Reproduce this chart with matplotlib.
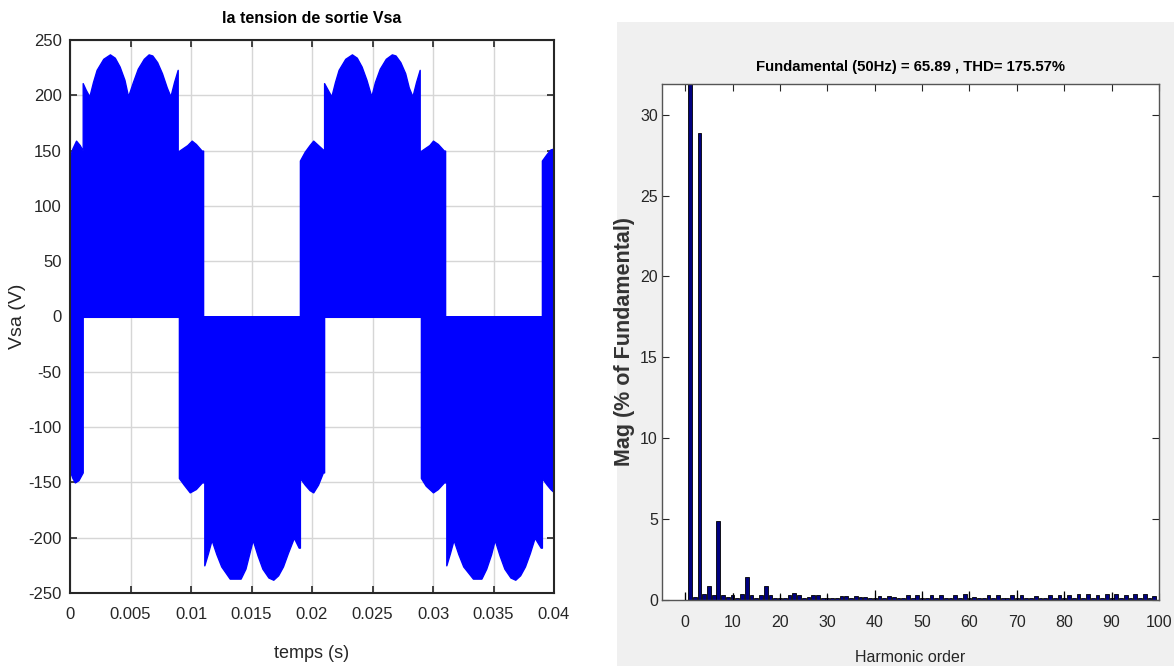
import matplotlib
matplotlib.use("Agg")
import matplotlib.pyplot as plt
from matplotlib import font_manager
from matplotlib.patches import Rectangle
import numpy as np

# ---------------- data: left panel (envelope of the PWM voltage) ----
# upper (positive) envelope: time (s) and value (V)
t_up = [0.0, 0.0002, 0.0005, 0.0008, 0.00105, 0.00105, 0.0013, 0.0016, 0.0019, 0.0022,
        0.00275, 0.0033, 0.0037, 0.0041, 0.0045, 0.0048, 0.0052, 0.0056, 0.0061, 0.0065,
        0.0068, 0.0072, 0.0076, 0.0080, 0.0083, 0.0086, 0.0089, 0.0089, 0.0093, 0.0097,
        0.01006, 0.0104, 0.01088, 0.0110, 0.0110, 0.0190, 0.0190, 0.0194, 0.0198, 0.0201,
        0.0205, 0.0209, 0.0210, 0.0210, 0.0213, 0.0216, 0.0219, 0.0222, 0.02275, 0.0233,
        0.0237, 0.0241, 0.0245, 0.0249, 0.0252, 0.0256, 0.0261, 0.0266, 0.0269, 0.0273,
        0.0277, 0.0280, 0.0283, 0.0286, 0.0289, 0.0289, 0.0293, 0.0297, 0.0300, 0.0304,
        0.0309, 0.0310, 0.0310, 0.0390, 0.0390, 0.0394, 0.0397, 0.0400]
v_up = [145, 152, 159, 155, 150, 211, 205, 199, 212, 223,
        233, 237, 234, 226, 214, 199, 212, 224, 233, 237,
        236, 230, 220, 207, 199, 212, 223, 149, 152, 155,
        159, 156, 150, 150, 0, 0, 141, 149, 155, 159,
        155, 151, 151, 211, 205, 199, 212, 223, 233, 237,
        234, 226, 214, 199, 212, 224, 233, 237, 236, 230,
        220, 207, 199, 212, 223, 149, 152, 155, 159, 156,
        150, 150, 0, 0, 141, 147, 151, 152]

# lower (negative) envelope
t_lo = [0.0, 0.0002, 0.0004, 0.0007, 0.00105, 0.00105, 0.0090, 0.0090, 0.0094, 0.0099,
        0.0104, 0.0109, 0.0111, 0.0111, 0.0114, 0.0117, 0.0121, 0.0125, 0.0132, 0.0141,
        0.0145, 0.0148, 0.0151, 0.0155, 0.0159, 0.0164, 0.0168, 0.0172, 0.0176, 0.0180,
        0.0185, 0.0189, 0.0190, 0.0190, 0.0194, 0.0198, 0.0201, 0.0205, 0.0209, 0.0210,
        0.0210, 0.0290, 0.0290, 0.0294, 0.0300, 0.0304, 0.0309, 0.0311, 0.0311, 0.0314,
        0.0317, 0.0321, 0.0325, 0.0333, 0.0340, 0.0344, 0.0348, 0.0351, 0.0355, 0.0359,
        0.0364, 0.0368, 0.0372, 0.0376, 0.0380, 0.0384, 0.0389, 0.0390, 0.0390, 0.0394,
        0.0397, 0.0400]
v_lo = [-140, -146, -150, -148, -141, 0, 0, -146, -152, -159,
        -156, -150, -150, -225, -214, -202, -215, -226, -237, -237,
        -228, -215, -202, -216, -228, -236, -238, -234, -226, -214,
        -200, -209, -209, -146, -152, -157, -159, -152, -141, -141,
        0, 0, -146, -153, -159, -156, -150, -150, -225, -214,
        -202, -215, -226, -237, -237, -228, -215, -202, -216, -228,
        -236, -238, -234, -226, -214, -200, -209, -209, -146, -152,
        -156, -159]

# ---------------- data: right panel (harmonic spectrum, % of fundamental) ----
harm_order = list(range(0, 101))
harm_mag = [0.0, 100.0, 0.2, 28.9, 0.4, 0.85, 0.3, 4.9, 0.3, 0.2,
            0.3, 0.1, 0.4, 1.45, 0.3, 0.15, 0.3, 0.85, 0.3, 0.12,
            0.15, 0.12, 0.3, 0.45, 0.3, 0.15, 0.2, 0.3, 0.3, 0.15,
            0.1, 0.15, 0.1, 0.25, 0.25, 0.1, 0.25, 0.2, 0.2, 0.15,
            0.1, 0.25, 0.15, 0.25, 0.2, 0.15, 0.1, 0.3, 0.1, 0.3,
            0.1, 0.1, 0.3, 0.15, 0.3, 0.1, 0.15, 0.3, 0.15, 0.35,
            0.1, 0.2, 0.1, 0.1, 0.3, 0.1, 0.3, 0.15, 0.15, 0.3,
            0.15, 0.3, 0.1, 0.1, 0.25, 0.1, 0.1, 0.3, 0.15, 0.3,
            0.1, 0.3, 0.15, 0.4, 0.1, 0.35, 0.1, 0.3, 0.1, 0.4,
            0.15, 0.4, 0.15, 0.3, 0.1, 0.4, 0.1, 0.35, 0.1, 0.25,
            0.0]
spike_order = [0, 10, 20, 30, 40, 50, 60, 70, 80, 90]
spike_mag = [0.5, 0.45, 0.4, 0.35, 0.6, 0.55, 0.55, 0.6, 0.55, 0.5]

left_xticks = [0, 0.005, 0.01, 0.015, 0.02, 0.025, 0.03, 0.035, 0.04]
left_xticklabels = ["0", "0.005", "0.01", "0.015", "0.02", "0.025", "0.03", "0.035", "0.04"]
left_yticks = [-250, -200, -150, -100, -50, 0, 50, 100, 150, 200, 250]
right_xticks = list(range(0, 101, 10))
right_yticks = [0, 5, 10, 15, 20, 25, 30]

title_left = "la tension de sortie Vsa"
title_right = "Fundamental (50Hz) = 65.89 , THD= 175.57%"

# ---------------- fonts ----
names = {f.name for f in font_manager.fontManager.ttflist}
base = "Liberation Sans" if "Liberation Sans" in names else "DejaVu Sans"
narrow = "Liberation Sans Narrow" if "Liberation Sans Narrow" in names else base
plt.rcParams["font.family"] = [base, "DejaVu Sans"]
plt.rcParams["axes.unicode_minus"] = False

W, H = 1174, 666
fig = plt.figure(figsize=(W / 100, H / 100), dpi=100)
fig.patch.set_facecolor("white")

# gray background of the right panel
fig.add_artist(Rectangle((617 / W, 0), 1 - 617 / W, 1 - 22 / H, transform=fig.transFigure,
                         facecolor="#f0f0f0", edgecolor="none", zorder=0))

# ---------------- left panel ----
axL = fig.add_axes([70 / W, (H - 593) / H, 484 / W, 553 / H])
axL.fill_between(t_up, 0, v_up, color="#0000ff", linewidth=1.0, edgecolor="#0000ff", zorder=2)
axL.fill_between(t_lo, v_lo, 0, color="#0000ff", linewidth=1.0, edgecolor="#0000ff", zorder=2)
axL.set_xlim(0, 0.04)
axL.set_ylim(-250, 250)
axL.set_xticks(left_xticks)
axL.set_xticklabels(left_xticklabels)
axL.set_yticks(left_yticks)
axL.grid(True, color="#d6d6d6", linewidth=1.0, zorder=0)
axL.set_axisbelow(True)
axL.tick_params(direction="in", top=True, right=True, length=5, width=1.2,
                labelsize=12, colors="#262626")
axL.tick_params(axis="x", pad=10)
axL.tick_params(axis="y", pad=6)
for s in axL.spines.values():
    s.set_linewidth(1.5)
    s.set_color("#262626")
axL.set_title(title_left, fontsize=11.5, fontweight="bold", color="black", pad=12)
axL.set_xlabel("temps (s)", fontsize=13, color="#262626", labelpad=17)
axL.set_ylabel("Vsa (V)", fontsize=14, color="#262626", labelpad=2)

# ---------------- right panel ----
axR = fig.add_axes([662 / W, (H - 600) / H, 497 / W, 516 / H])
axR.set_facecolor("white")
axR.bar(harm_order, harm_mag, width=0.8, color="#00007f", edgecolor="black", linewidth=0.6, zorder=2)
axR.vlines(spike_order, 0, spike_mag, color="black", linewidth=0.9, zorder=3)
axR.set_xlim(-4.9, 100)
axR.set_ylim(0, 31.9)
axR.set_xticks(right_xticks)
axR.set_yticks(right_yticks)
axR.tick_params(direction="in", top=True, right=True, length=5, width=0.8,
                colors="#262626")
axR.tick_params(axis="x", pad=11)
axR.tick_params(axis="y", pad=3)
for lab in axR.get_xticklabels() + axR.get_yticklabels():
    lab.set_fontfamily([narrow, "DejaVu Sans"])
    lab.set_fontsize(11.5)
for s in axR.spines.values():
    s.set_linewidth(1.0)
    s.set_color("#555555")
axR.set_title(title_right, fontsize=10.7, fontweight="bold", color="black", pad=9,
              family=[narrow, "DejaVu Sans"])
axR.set_xlabel("Harmonic order", fontsize=11.5, color="#262626", labelpad=14,
               family=[narrow, "DejaVu Sans"])
axR.set_ylabel("Mag (% of Fundamental)", fontsize=15.5, fontweight="bold", color="#333333",
               family=[base, "DejaVu Sans"])
axR.yaxis.set_label_coords((635 - 662) / 497, 0.5)

fig.savefig("out.png", dpi=100)
